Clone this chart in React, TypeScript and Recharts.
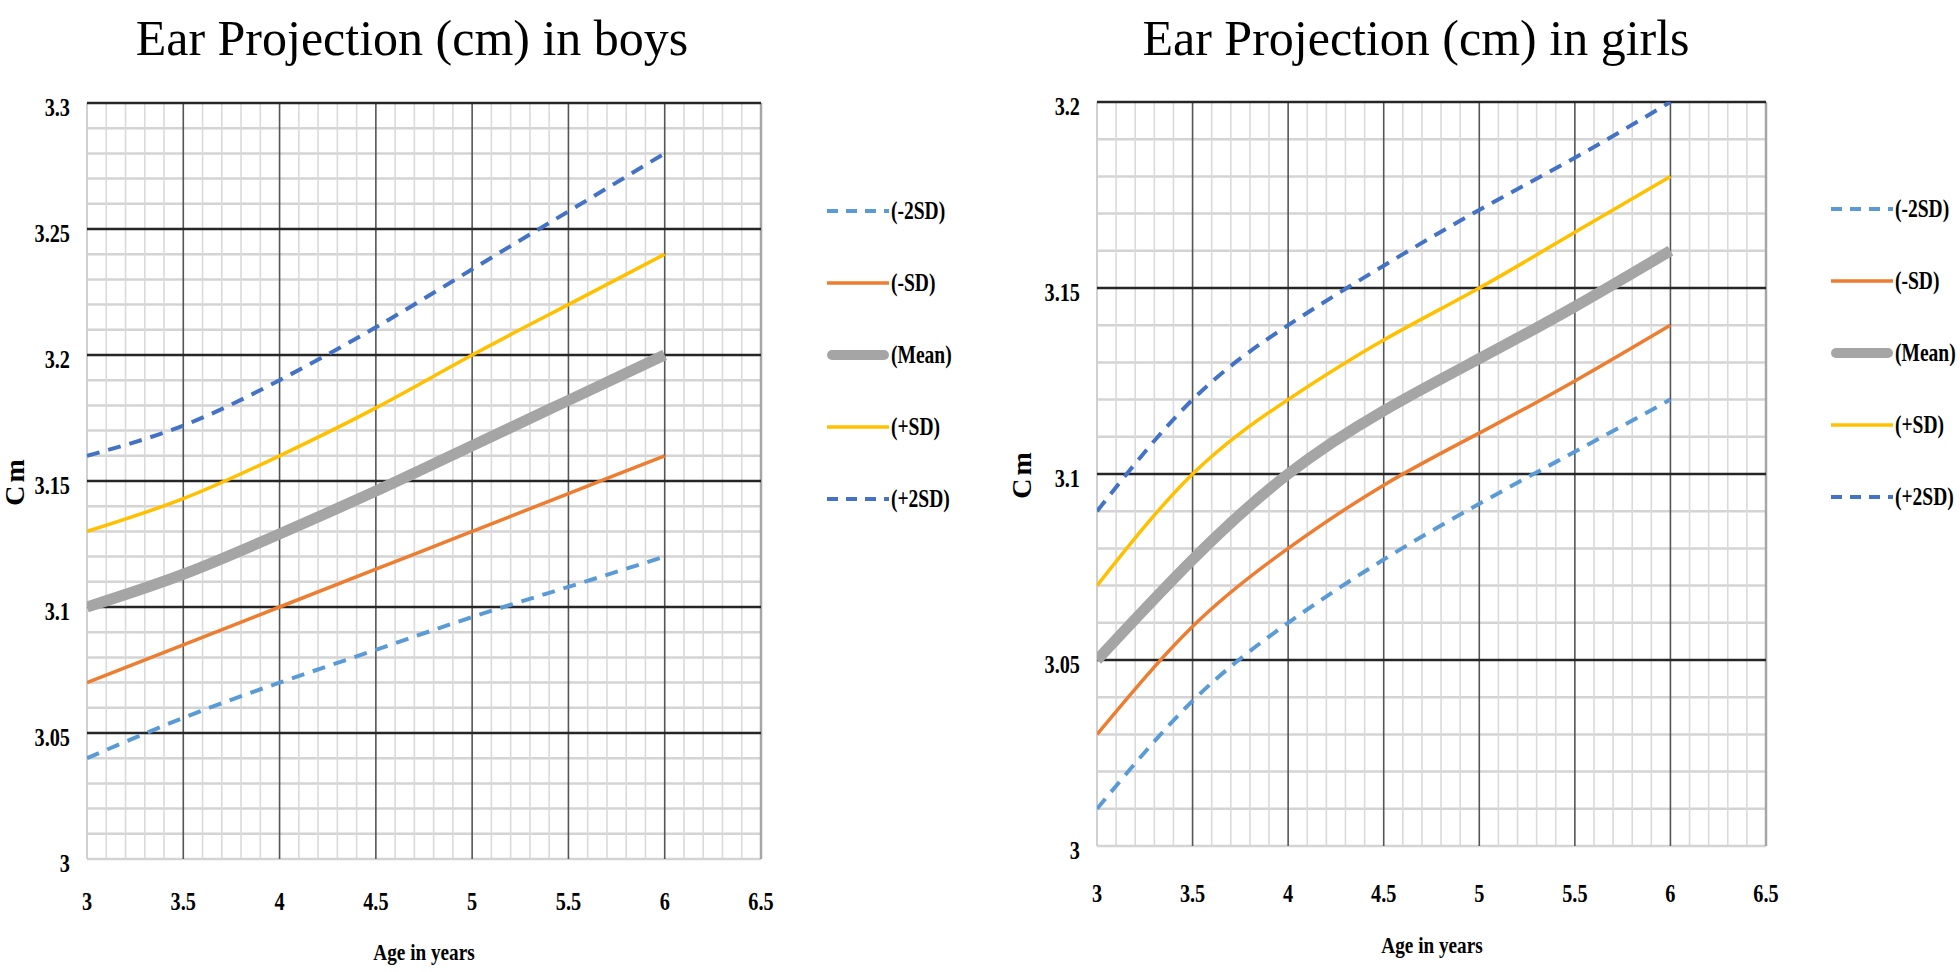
import React from "react";
import { LineChart, Line, XAxis, YAxis, ReferenceLine, Legend } from "recharts";

const SERIF = "'Liberation Serif', 'Times New Roman', serif";

const AGES = [3, 3.5, 4, 4.5, 5, 5.5, 6];
const X_TICKS = [3, 3.5, 4, 4.5, 5, 5.5, 6, 6.5];

// boys
const BOYS_MINUS_2SD = [3.04, 3.056, 3.07, 3.083, 3.096, 3.108, 3.12];
const BOYS_MINUS_SD = [3.07, 3.085, 3.1, 3.115, 3.13, 3.145, 3.16];
const BOYS_MEAN = [3.1, 3.113, 3.129, 3.146, 3.164, 3.182, 3.2];
const BOYS_PLUS_SD = [3.13, 3.143, 3.16, 3.179, 3.2, 3.22, 3.24];
const BOYS_PLUS_2SD = [3.16, 3.172, 3.19, 3.211, 3.234, 3.257, 3.28];
const BOYS_Y_TICKS = [3, 3.05, 3.1, 3.15, 3.2, 3.25, 3.3];

// girls
const GIRLS_MINUS_2SD = [3.01, 3.039, 3.06, 3.077, 3.092, 3.106, 3.12];
const GIRLS_MINUS_SD = [3.03, 3.059, 3.08, 3.097, 3.111, 3.125, 3.14];
const GIRLS_MEAN = [3.05, 3.077, 3.1, 3.117, 3.131, 3.145, 3.16];
const GIRLS_PLUS_SD = [3.07, 3.1, 3.12, 3.136, 3.15, 3.165, 3.18];
const GIRLS_PLUS_2SD = [3.09, 3.12, 3.14, 3.156, 3.171, 3.185, 3.2];
const GIRLS_Y_TICKS = [3, 3.05, 3.1, 3.15, 3.2];

const SERIES = [
  { key: "m2", name: "(-2SD)", color: "#5B9BD5", width: 4, dash: "13 9" },
  { key: "m1", name: "(-SD)", color: "#ED7D31", width: 3.5, dash: undefined },
  { key: "mean", name: "(Mean)", color: "#A5A5A5", width: 11, dash: undefined },
  { key: "p1", name: "(+SD)", color: "#FFC000", width: 3.5, dash: undefined },
  { key: "p2", name: "(+2SD)", color: "#4472C4", width: 4, dash: "13 9" },
];

const makeRows = (m2: number[], m1: number[], mean: number[], p1: number[], p2: number[]) =>
  AGES.map((age, i) => ({ age, m2: m2[i], m1: m1[i], mean: mean[i], p1: p1[i], p2: p2[i] }));

const boysRows = makeRows(BOYS_MINUS_2SD, BOYS_MINUS_SD, BOYS_MEAN, BOYS_PLUS_SD, BOYS_PLUS_2SD);
const girlsRows = makeRows(GIRLS_MINUS_2SD, GIRLS_MINUS_SD, GIRLS_MEAN, GIRLS_PLUS_SD, GIRLS_PLUS_2SD);

// grid helper (gridline positions only, not data)
const steps = (from: number, to: number, step: number) => {
  const out: number[] = [];
  for (let v = from; v <= to + 1e-9; v += step) out.push(Math.round(v * 1000) / 1000);
  return out;
};
const isOn = (v: number, list: number[]) => list.some((t) => Math.abs(t - v) < 1e-6);

const SqueezedTick = (p: any) => (
  <g transform={`translate(${p.x},${p.y + (p.shift || 0)})`}>
    <text
      transform="scale(0.78,1)"
      textAnchor={p.textAnchor}
      dominantBaseline="central"
      fontFamily={SERIF}
      fontWeight={700}
      fontSize={26}
      fill="#000"
    >
      {p.payload.value}
    </text>
  </g>
);

const LegendBox = ({ top }: { top: number }) => (
  <div style={{ position: "relative", width: 150 }}>
    {SERIES.map((s, i) => (
      <div
        key={s.key}
        style={{ position: "absolute", top: top + i * 72 - 16, left: 0, height: 32, display: "flex", alignItems: "center" }}
      >
        <svg width={62} height={16} style={{ flexShrink: 0 }}>
          <line
            x1={s.width > 6 ? 5 : 0}
            y1={8}
            x2={s.width > 6 ? 57 : 62}
            y2={8}
            stroke={s.color}
            strokeWidth={s.width > 6 ? 10 : s.width}
            strokeDasharray={s.dash ? "11 8" : undefined}
            strokeLinecap={s.width > 6 ? "round" : "butt"}
          />
        </svg>
        <span
          style={{
            display: "inline-block",
            marginLeft: 2,
            fontFamily: SERIF,
            fontWeight: 700,
            fontSize: 25,
            transform: "scaleX(0.78)",
            transformOrigin: "left center",
            whiteSpace: "nowrap",
            color: "#000",
          }}
        >
          {s.name}
        </span>
      </div>
    ))}
  </div>
);

interface PanelProps {
  left: number;
  title: string;
  titleX: number;
  rows: any[];
  yTicks: number[];
  yMax: number;
  plotLeft: number;
  plotRight: number;
  plotTop: number;
  plotBottom: number;
  xTickShift: number;
  xLabelY: number;
  cmX: number;
  legendX: number;
  legendTop: number;
}

function Panel(props: PanelProps) {
  const { left, title, titleX, rows, yTicks, yMax, plotLeft, plotRight, plotTop, plotBottom } = props;
  const W = 980;
  const H = 972;
  const yAxisW = 60;
  const xAxisH = 60;
  const minorX = steps(3, 6.5, 0.1).filter((v) => !isOn(v, X_TICKS));
  const minorY = steps(3, yMax, 0.01).filter((v) => !isOn(v, yTicks));
  const majorX = X_TICKS.filter((v) => v > 3 && v < 6.5);
  const majorY = yTicks.filter((v) => v > 3);

  return (
    <div style={{ position: "absolute", left, top: 0, width: W, height: H }}>
      <div
        style={{
          position: "absolute",
          left: titleX - 400,
          width: 800,
          top: 12,
          textAlign: "center",
          fontFamily: SERIF,
          fontSize: 50,
          lineHeight: "52px",
          color: "#000",
        }}
      >
        {title}
      </div>
      <div
        style={{
          position: "absolute",
          left: props.cmX - 40,
          top: (plotTop + plotBottom) / 2 - 10,
          width: 80,
          height: 20,
          textAlign: "center",
          transform: "rotate(-90deg)",
          fontFamily: SERIF,
          fontWeight: 700,
          fontSize: 28,
          lineHeight: "20px",
          letterSpacing: 3,
        }}
      >
        Cm
      </div>
      <div
        style={{
          position: "absolute",
          left: (plotLeft + plotRight) / 2 - 100,
          width: 200,
          top: props.xLabelY - 15,
          height: 30,
          lineHeight: "30px",
          textAlign: "center",
          fontFamily: SERIF,
          fontWeight: 700,
          fontSize: 24,
          transform: "scaleX(0.8)",
        }}
      >
        Age in years
      </div>
      <div style={{ position: "absolute", left: 0, top: 0 }}>
        <LineChart
          width={W}
          height={H}
          data={rows}
          margin={{ top: plotTop, right: W - plotRight, bottom: H - plotBottom - xAxisH, left: plotLeft - yAxisW }}
        >
          <XAxis
            dataKey="age"
            type="number"
            domain={[3, 6.5]}
            ticks={X_TICKS}
            allowDataOverflow
            height={xAxisH}
            axisLine={false}
            tickLine={false}
            tick={(p: any) => <SqueezedTick {...p} shift={props.xTickShift} />}
          />
          <YAxis
            type="number"
            domain={[3, yMax]}
            ticks={yTicks}
            allowDataOverflow
            width={yAxisW}
            axisLine={false}
            tickLine={false}
            tickMargin={11}
            tick={(p: any) => <SqueezedTick {...p} shift={4} />}
          />
          {minorY.map((v) => (
            <ReferenceLine key={"my" + v} y={v} stroke="#d4d4d4" strokeWidth={2.5} zIndex={-60} />
          ))}
          {minorX.map((v) => (
            <ReferenceLine key={"mx" + v} x={v} stroke="#dadada" strokeWidth={1.6} zIndex={-60} />
          ))}
          <ReferenceLine y={3} stroke="#d4d4d4" strokeWidth={2.5} zIndex={-60} />
          <ReferenceLine x={3} stroke="#d0d0d0" strokeWidth={2} zIndex={-60} />
          <ReferenceLine x={6.5} stroke="#a6a6a6" strokeWidth={2.5} zIndex={-55} />
          {majorX.map((v) => (
            <ReferenceLine key={"Mx" + v} x={v} stroke="#555555" strokeWidth={1.6} zIndex={-55} />
          ))}
          {majorY.map((v) => (
            <ReferenceLine key={"My" + v} y={v} stroke="#262626" strokeWidth={2.4} zIndex={-50} />
          ))}
          {SERIES.map((s) => (
            <Line
              key={s.key}
              dataKey={s.key}
              name={s.name}
              type="natural"
              stroke={s.color}
              strokeWidth={s.width}
              strokeDasharray={s.dash}
              dot={false}
              activeDot={false}
              isAnimationActive={false}
            />
          ))}
          <Legend
            layout="horizontal"
            verticalAlign="middle"
            align="center"
            wrapperStyle={{ left: props.legendX, top: 0, width: 150, height: 10 }}
            content={() => <LegendBox top={props.legendTop} />}
          />
        </LineChart>
      </div>
    </div>
  );
}

export default function App() {
  return (
    <div style={{ position: "absolute", left: 0, top: 0, width: 1960, height: 972, background: "#fff", overflow: "hidden" }}>
      <Panel
        left={0}
        title="Ear Projection (cm) in boys"
        titleX={412}
        rows={boysRows}
        yTicks={BOYS_Y_TICKS}
        yMax={3.3}
        plotLeft={87}
        plotRight={761}
        plotTop={103}
        plotBottom={859}
        xTickShift={34}
        xLabelY={952}
        cmX={15}
        legendX={827}
        legendTop={211}
      />
      <Panel
        left={980}
        title="Ear Projection (cm) in girls"
        titleX={436}
        rows={girlsRows}
        yTicks={GIRLS_Y_TICKS}
        yMax={3.2}
        plotLeft={117}
        plotRight={786}
        plotTop={102}
        plotBottom={846}
        xTickShift={39}
        xLabelY={945}
        cmX={42}
        legendX={851}
        legendTop={209}
      />
    </div>
  );
}
